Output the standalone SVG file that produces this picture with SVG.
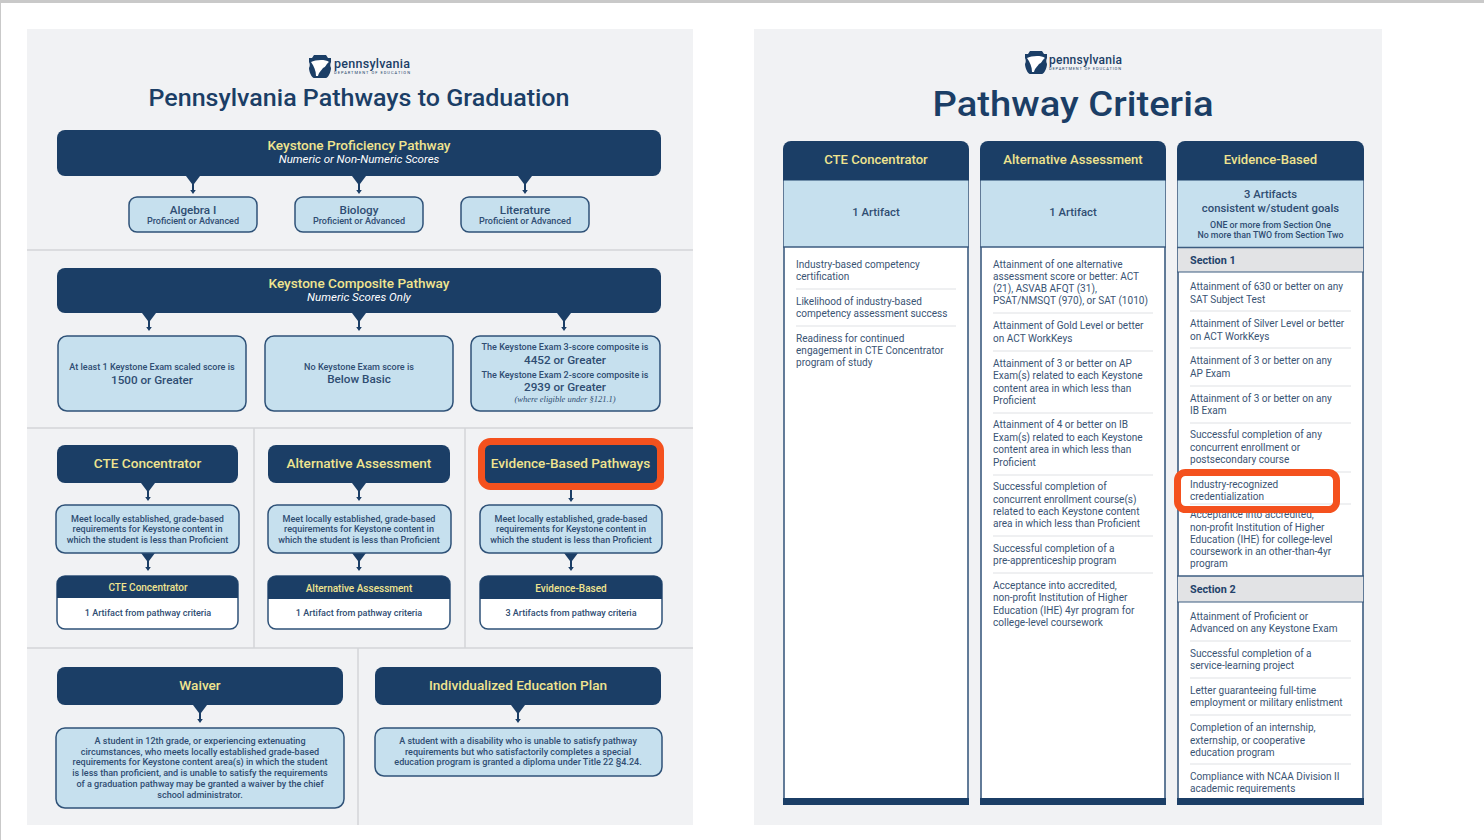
<svg xmlns="http://www.w3.org/2000/svg" xmlns:xlink="http://www.w3.org/1999/xlink" width="1484" height="840" viewBox="0 0 1484 840">
<style>
text{font-family:"Roboto","Open Sans","Liberation Sans",sans-serif;fill:#2f4d72}
.c{text-anchor:middle}
.navy{fill:#1b3e66}
.blue{fill:#c6e0ee;stroke:#2f5278;stroke-width:1.5}
.y{fill:#f0e48f;font-weight:500;text-anchor:middle}
.it{fill:#fff;font-style:italic;font-size:11.500px;text-anchor:middle}
.b{font-weight:500;text-anchor:middle;font-size:9.050px}
.m{font-weight:500;text-anchor:middle;font-size:11.700px}
.l{font-size:10.050px;fill:#3a5474}
.h{font-size:10.800px;font-weight:700;fill:#24426a}
.d{stroke:#dfe1e4;stroke-width:1}
.sep{stroke:#d3d5d8;stroke-width:1.5}
.hl{fill:none;stroke:#f4511e;stroke-width:7}
.co{fill:none;stroke:#3d5c80;stroke-width:1.600}
.t1{font-size:13.600px}
.t2{font-size:13.100px}
.t3{font-size:10px}
.a{font-size:11.300px;font-weight:500}
</style>
<defs>
<path id="conn" d="M-7 0H7L1 8V14H2.800L0 18L-2.800 14H-1V8Z" fill="#1b3e66"/>
<path id="conn2" d="M-1 0H1V13H2.800L0 17L-2.800 13H-1Z" fill="#1b3e66"/>
<g id="logo">
<path d="M0 3H3L5 0H17L19 3H22V7C21 9 21 11 22 13C22 17 19 23 17 23H5C3 23 0 17 0 13C1 11 1 9 0 7Z" fill="#1b3e66"/>
<path d="M2 7C6 5 16 4 20 7C17 9 17 12 14 13C12 16 10 17 9 21L7 21C7 16 5 11 2 7Z" fill="#fff"/>
</g>
</defs>
<rect width="1484" height="840" fill="#fff"/>
<rect width="1484" height="3" fill="#c9c9c9"/>
<rect width="1" height="840" fill="#c9c9c9"/>
<g id="panels">
<rect x="27" y="29" width="666" height="796" fill="#f1f2f4"/>
<rect x="754" y="29" width="628" height="796" fill="#f1f2f4"/>
<path class="sep" d="M27 250H693M27 428H693M27 648H693M254 428V648M465 428V648M358 648V825" fill="none"/>
</g>
<g id="header-left">
<use href="#logo" x="309" y="55"/>
<text x="334" y="68" style="font-size:12.500px;font-weight:500;fill:#1b3e66" textLength="76">pennsylvania</text>
<text x="334" y="74" style="font-size:4px;fill:#1b3e66" textLength="76">DEPARTMENT OF EDUCATION</text>
<text x="359" y="106" class="c" style="font-size:24px;font-weight:500;fill:#1b3e66" textLength="421" lengthAdjust="spacingAndGlyphs">Pennsylvania Pathways to Graduation</text>
</g>
<g id="connectors">
<use href="#conn" x="193" y="176"/><use href="#conn" x="359" y="176"/><use href="#conn" x="525" y="176"/>
<use href="#conn" x="149" y="313"/><use href="#conn" x="359" y="313"/><use href="#conn" x="564" y="313"/>
<use href="#conn" x="148" y="483"/><use href="#conn" x="359" y="483"/><use href="#conn2" x="571" y="485"/>
<use href="#conn" x="148" y="553"/><use href="#conn" x="359" y="553"/><use href="#conn" x="571" y="553"/>
<use href="#conn" x="200" y="705"/><use href="#conn" x="518" y="705"/>
</g>
<g id="proficiency">
<rect class="navy" x="57" y="130" width="604" height="46" rx="8"/>
<text x="359" y="150" class="y t1">Keystone Proficiency Pathway</text>
<text x="359" y="163" class="it">Numeric or Non-Numeric Scores</text>
</g>
<g id="algebra"><rect class="blue" x="129" y="197" width="128" height="35" rx="8"/><text x="193" y="214" class="m">Algebra I</text><text x="193" y="224" class="b">Proficient or Advanced</text></g>
<g id="biology"><rect class="blue" x="295" y="197" width="128" height="35" rx="8"/><text x="359" y="214" class="m">Biology</text><text x="359" y="224" class="b">Proficient or Advanced</text></g>
<g id="literature"><rect class="blue" x="461" y="197" width="128" height="35" rx="8"/><text x="525" y="214" class="m">Literature</text><text x="525" y="224" class="b">Proficient or Advanced</text></g>
<g id="composite">
<rect class="navy" x="57" y="268" width="604" height="45" rx="8"/>
<text x="359" y="288" class="y t1">Keystone Composite Pathway</text>
<text x="359" y="301" class="it">Numeric Scores Only</text>
</g>
<g id="comp1"><rect class="blue" x="58" y="336" width="188" height="75" rx="9"/><text x="152" y="370" class="b">At least 1 Keystone Exam scaled score is</text><text x="152" y="384" class="m">1500 or Greater</text></g>
<g id="comp2"><rect class="blue" x="265" y="336" width="188" height="75" rx="9"/><text x="359" y="370" class="b">No Keystone Exam score is</text><text x="359" y="383" class="m">Below Basic</text></g>
<g id="comp3"><rect class="blue" x="471" y="336" width="189" height="75" rx="9"/>
<text x="565" y="350" class="b">The Keystone Exam 3-score composite is</text><text x="565" y="364" class="m">4452 or Greater</text>
<text x="565" y="378" class="b">The Keystone Exam 2-score composite is</text><text x="565" y="391" class="m">2939 or Greater</text>
<text x="565" y="402" class="c" style="font-family:'Liberation Serif',serif;font-style:italic;font-size:8.500px">(where eligible under §121.1)</text></g>
<g id="cte-h"><rect class="navy" x="57" y="445" width="181" height="38" rx="8"/><text x="147.500" y="468" class="y t1">CTE Concentrator</text></g>
<g id="alt-h"><rect class="navy" x="268" y="445" width="182" height="38" rx="8"/><text x="359" y="468" class="y t1">Alternative Assessment</text></g>
<g id="evi-h"><rect class="navy" x="482" y="442" width="178" height="45" rx="8"/><rect class="hl" x="481.500" y="441.500" width="179" height="45" rx="9"/><text x="570.500" y="468" class="y t1">Evidence-Based Pathways</text></g>
<g id="cte-m"><rect class="blue" x="56" y="505" width="183" height="48" rx="9"/><text x="147.500" y="522" class="b">Meet locally established, grade-based</text><text x="147.500" y="532" class="b">requirements for Keystone content in</text><text x="147.500" y="543" class="b">which the student is less than Proficient</text></g>
<g id="alt-m"><rect class="blue" x="268" y="505" width="183" height="48" rx="9"/><text x="359" y="522" class="b">Meet locally established, grade-based</text><text x="359" y="532" class="b">requirements for Keystone content in</text><text x="359" y="543" class="b">which the student is less than Proficient</text></g>
<g id="evi-m"><rect class="blue" x="480" y="505" width="182" height="48" rx="9"/><text x="571" y="522" class="b">Meet locally established, grade-based</text><text x="571" y="532" class="b">requirements for Keystone content in</text><text x="571" y="543" class="b">which the student is less than Proficient</text></g>
<g id="cte-r"><rect x="57" y="576" width="181" height="53" rx="8" fill="#fff" stroke="#2f5278" stroke-width="1.500"/><path class="navy" d="M57 598V584a8 8 0 0 1 8-8H230a8 8 0 0 1 8 8V598Z"/><text x="148" y="591" class="y t3">CTE Concentrator</text><text x="148" y="616" class="b">1 Artifact from pathway criteria</text></g>
<g id="alt-r"><rect x="268" y="576" width="182" height="53" rx="8" fill="#fff" stroke="#2f5278" stroke-width="1.500"/><path class="navy" d="M268 599V584a8 8 0 0 1 8-8H442a8 8 0 0 1 8 8V599Z"/><text x="359" y="592" class="y t3">Alternative Assessment</text><text x="359" y="616" class="b">1 Artifact from pathway criteria</text></g>
<g id="evi-r"><rect x="480" y="576" width="182" height="53" rx="8" fill="#fff" stroke="#2f5278" stroke-width="1.500"/><path class="navy" d="M480 599V584a8 8 0 0 1 8-8H654a8 8 0 0 1 8 8V599Z"/><text x="571" y="592" class="y t3">Evidence-Based</text><text x="571" y="616" class="b">3 Artifacts from pathway criteria</text></g>
<g id="waiver"><rect class="navy" x="57" y="667" width="286" height="38" rx="8"/><text x="200" y="690" class="y t1">Waiver</text></g>
<g id="iep"><rect class="navy" x="375" y="667" width="286" height="38" rx="8"/><text x="518" y="690" class="y t1">Individualized Education Plan</text></g>
<g id="waiver-t"><rect class="blue" x="56" y="728" width="288" height="80" rx="9"/>
<text x="200" y="744" class="b">A student in 12th grade, or experiencing extenuating</text>
<text x="200" y="755" class="b">circumstances, who meets locally established grade-based</text>
<text x="200" y="765" class="b">requirements for Keystone content area(s) in which the student</text>
<text x="200" y="776" class="b">is less than proficient, and is unable to satisfy the requirements</text>
<text x="200" y="787" class="b">of a graduation pathway may be granted a waiver by the chief</text>
<text x="200" y="798" class="b">school administrator.</text></g>
<g id="iep-t"><rect class="blue" x="375" y="728" width="287" height="48" rx="9"/>
<text x="518" y="744" class="b">A student with a disability who is unable to satisfy pathway</text>
<text x="518" y="755" class="b">requirements but who satisfactorily completes a special</text>
<text x="518" y="765" class="b">education program is granted a diploma under Title 22 §4.24.</text></g>
<g id="header-right">
<use href="#logo" x="1025" y="51"/>
<text x="1049" y="64" style="font-size:12px;font-weight:500;fill:#1b3e66" textLength="73">pennsylvania</text>
<text x="1049" y="70" style="font-size:4px;fill:#1b3e66" textLength="72">DEPARTMENT OF EDUCATION</text>
<text x="1073" y="116" class="c" style="font-size:35px;font-weight:500;fill:#1b3e66" textLength="281" lengthAdjust="spacingAndGlyphs">Pathway Criteria</text>
</g>
<g id="col-cte">
<rect x="784" y="150" width="184" height="654" fill="#fff" stroke="#3d5c80" stroke-width="1.600"/>
<rect x="784" y="180" width="184" height="67" fill="#c6e0ee"/>
<path d="M783 247H969" class="co"/>
<path class="navy" d="M783 180.500V149a8 8 0 0 1 8-8H961a8 8 0 0 1 8 8V180.500Z"/>
<rect class="navy" x="783" y="798" width="186" height="7"/>
<text x="876" y="164" class="y t2">CTE Concentrator</text>
<text x="876" y="216" class="c a">1 Artifact</text>
<text class="l" x="796" y="268">Industry-based competency</text><text class="l" x="796" y="280">certification</text>
<path class="d" d="M796 289H956"/>
<text class="l" x="796" y="305">Likelihood of industry-based</text><text class="l" x="796" y="317">competency assessment success</text>
<path class="d" d="M796 326H956"/>
<text class="l" x="796" y="342">Readiness for continued</text><text class="l" x="796" y="354">engagement in CTE Concentrator</text><text class="l" x="796" y="366">program of study</text>
</g>
<g id="col-alt">
<rect x="981" y="150" width="184" height="654" fill="#fff" stroke="#3d5c80" stroke-width="1.600"/>
<rect x="981" y="180" width="184" height="67" fill="#c6e0ee"/>
<path d="M980 247H1166" class="co"/>
<path class="navy" d="M980 180.500V149a8 8 0 0 1 8-8H1158a8 8 0 0 1 8 8V180.500Z"/>
<rect class="navy" x="980" y="798" width="186" height="7"/>
<text x="1073" y="164" class="y t2">Alternative Assessment</text>
<text x="1073" y="216" class="c a">1 Artifact</text>
<text class="l" x="993" y="268">Attainment of one alternative</text><text class="l" x="993" y="280">assessment score or better: ACT</text><text class="l" x="993" y="292">(21), ASVAB AFQT (31),</text><text class="l" x="993" y="304">PSAT/NMSQT (970), or SAT (1010)</text>
<path class="d" d="M993 313H1153"/>
<text class="l" x="993" y="329">Attainment of Gold Level or better</text><text class="l" x="993" y="342">on ACT WorkKeys</text>
<path class="d" d="M993 351H1153"/>
<text class="l" x="993" y="367">Attainment of 3 or better on AP</text><text class="l" x="993" y="379">Exam(s) related to each Keystone</text><text class="l" x="993" y="392">content area in which less than</text><text class="l" x="993" y="404">Proficient</text>
<path class="d" d="M993 413H1153"/>
<text class="l" x="993" y="428">Attainment of 4 or better on IB</text><text class="l" x="993" y="441">Exam(s) related to each Keystone</text><text class="l" x="993" y="453">content area in which less than</text><text class="l" x="993" y="466">Proficient</text>
<path class="d" d="M993 475H1153"/>
<text class="l" x="993" y="490">Successful completion of</text><text class="l" x="993" y="503">concurrent enrollment course(s)</text><text class="l" x="993" y="515">related to each Keystone content</text><text class="l" x="993" y="527">area in which less than Proficient</text>
<path class="d" d="M993 536H1153"/>
<text class="l" x="993" y="552">Successful completion of a</text><text class="l" x="993" y="564">pre-apprenticeship program</text>
<path class="d" d="M993 573H1153"/>
<text class="l" x="993" y="589">Acceptance into accredited,</text><text class="l" x="993" y="601">non-profit Institution of Higher</text><text class="l" x="993" y="614">Education (IHE) 4yr program for</text><text class="l" x="993" y="626">college-level coursework</text>
</g>
<g id="col-evi">
<rect x="1178" y="150" width="185" height="654" fill="#fff" stroke="#3d5c80" stroke-width="1.600"/>
<rect x="1178" y="180" width="185" height="67" fill="#c6e0ee"/>
<path class="navy" d="M1177 180.500V149a8 8 0 0 1 8-8H1356a8 8 0 0 1 8 8V180.500Z"/>
<rect class="navy" x="1177" y="798" width="187" height="7"/>
<text x="1270.500" y="164" class="y t2">Evidence-Based</text>
<text x="1270.500" y="198" class="c a">3 Artifacts</text>
<text x="1270.500" y="212" class="c a">consistent w/student goals</text>
<text x="1270.500" y="228" class="b" style="font-size:8.800px">ONE or more from Section One</text>
<text x="1270.500" y="238" class="b" style="font-size:8.800px">No more than TWO from Section Two</text>
<rect x="1178" y="248" width="185" height="24" fill="#e2e3e5"/><path d="M1177 247.500H1364" class="co"/><path d="M1177 272H1364" class="co" style="stroke-width:1"/>
<text class="h" x="1190" y="264">Section 1</text>
<text class="l" x="1190" y="290">Attainment of 630 or better on any</text><text class="l" x="1190" y="303">SAT Subject Test</text>
<path class="d" d="M1190 311H1351"/>
<text class="l" x="1190" y="327">Attainment of Silver Level or better</text><text class="l" x="1190" y="340">on ACT WorkKeys</text>
<path class="d" d="M1190 348H1351"/>
<text class="l" x="1190" y="364">Attainment of 3 or better on any</text><text class="l" x="1190" y="377">AP Exam</text>
<path class="d" d="M1190 386H1351"/>
<text class="l" x="1190" y="402">Attainment of 3 or better on any</text><text class="l" x="1190" y="414">IB Exam</text>
<path class="d" d="M1190 423H1351"/>
<text class="l" x="1190" y="438">Successful completion of any</text><text class="l" x="1190" y="451">concurrent enrollment or</text><text class="l" x="1190" y="463">postsecondary course</text>
<path class="d" d="M1190 472H1351"/>
<text class="l" x="1190" y="488">Industry-recognized</text><text class="l" x="1190" y="500">credentialization</text>
<path class="d" d="M1190 504H1351"/>
<text class="l" x="1190" y="518">Acceptance into accredited,</text><text class="l" x="1190" y="531">non-profit Institution of Higher</text><text class="l" x="1190" y="543">Education (IHE) for college-level</text><text class="l" x="1190" y="555">coursework in an other-than-4yr</text><text class="l" x="1190" y="567">program</text>
<rect x="1178" y="576" width="185" height="26" fill="#e2e3e5"/><path d="M1177 576H1364" class="co"/><path d="M1177 602H1364" class="co" style="stroke-width:1"/>
<text class="h" x="1190" y="593">Section 2</text>
<text class="l" x="1190" y="620">Attainment of Proficient or</text><text class="l" x="1190" y="632">Advanced on any Keystone Exam</text>
<path class="d" d="M1190 641H1351"/>
<text class="l" x="1190" y="657">Successful completion of a</text><text class="l" x="1190" y="669">service-learning project</text>
<path class="d" d="M1190 678H1351"/>
<text class="l" x="1190" y="694">Letter guaranteeing full-time</text><text class="l" x="1190" y="706">employment or military enlistment</text>
<path class="d" d="M1190 715H1351"/>
<text class="l" x="1190" y="731">Completion of an internship,</text><text class="l" x="1190" y="744">externship, or cooperative</text><text class="l" x="1190" y="756">education program</text>
<path class="d" d="M1190 764H1351"/>
<text class="l" x="1190" y="780">Compliance with NCAA Division II</text><text class="l" x="1190" y="792">academic requirements</text>
<rect class="hl" x="1177.500" y="472.500" width="159" height="37" rx="8"/>
</g>
</svg>
